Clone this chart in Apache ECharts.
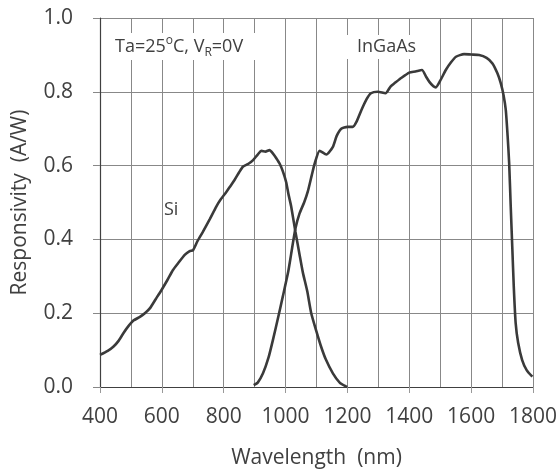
<!DOCTYPE html>
<html><head><meta charset="utf-8">
<script src="https://cdn.jsdelivr.net/npm/echarts@6/dist/echarts.min.js"></script>
<style>html,body{margin:0;padding:0;background:#fff}#c{width:560px;height:475px}</style>
</head><body><div id="c"></div>
<script>
const xTicks = [400, 600, 800, 1000, 1200, 1400, 1600, 1800];
const yTicks = [0.0, 0.2, 0.4, 0.6, 0.8, 1.0];
const siWavelength = [400,425,443,460,475,490,508,529,545,561,580,599,618,636,655,674,690,701,715,733,755,776,790,809,822,835,850,862,880,895,910,922,935,948,960,970,981,991,1002,1010,1018,1032,1045,1056,1070,1083,1100,1115,1130,1153,1175,1196,1200];
const siResp = [0.087,0.098,0.109,0.125,0.145,0.163,0.180,0.190,0.200,0.213,0.238,0.263,0.290,0.317,0.338,0.358,0.368,0.371,0.395,0.421,0.455,0.489,0.508,0.529,0.545,0.561,0.582,0.597,0.605,0.615,0.630,0.640,0.638,0.642,0.632,0.620,0.605,0.585,0.555,0.520,0.490,0.420,0.360,0.310,0.260,0.200,0.150,0.109,0.075,0.037,0.012,0.001,0.0];
const ingaasWavelength = [897,910,927,945,959,975,991,1008,1018,1032,1045,1060,1072,1085,1094,1110,1132,1153,1165,1180,1200,1217,1230,1245,1262,1276,1298,1323,1340,1352,1375,1400,1420,1441,1455,1465,1478,1486,1500,1518,1535,1551,1577,1600,1626,1650,1669,1685,1696,1705,1712,1718,1723,1728,1733,1738,1744,1752,1765,1780,1798];
const ingaasResp = [0.005,0.012,0.037,0.080,0.127,0.185,0.245,0.310,0.360,0.430,0.470,0.500,0.530,0.575,0.605,0.640,0.630,0.651,0.680,0.700,0.705,0.705,0.720,0.750,0.780,0.796,0.800,0.796,0.815,0.823,0.838,0.852,0.855,0.859,0.840,0.827,0.815,0.812,0.830,0.859,0.880,0.895,0.902,0.901,0.900,0.892,0.877,0.850,0.823,0.790,0.751,0.680,0.606,0.490,0.380,0.270,0.173,0.120,0.073,0.045,0.028];
const xTitle = 'Wavelength  (nm)';
const yTitle = 'Responsivity  (A/W)';

const FONT = 'Open Sans';
const TXT = '#404040';
const chart = echarts.init(document.getElementById('c'), null, {renderer: 'canvas'});
const zip = (a, b) => a.map((v, i) => [v, b[i]]);
chart.setOption({
  animation: false,
  backgroundColor: '#fff',
  grid: {left: 100, right: 26, top: 18, bottom: 88},
  xAxis: {
    type: 'value', min: xTicks[0], max: xTicks[xTicks.length - 1], interval: 200,
    name: xTitle, nameLocation: 'middle', nameGap: 61,
    nameTextStyle: {fontFamily: FONT, fontSize: 21, color: TXT},
    axisLine: {show: true, lineStyle: {color: '#404040', width: 1.2}},
    axisTick: {show: true, length: 6, lineStyle: {color: '#999'}},
    axisLabel: {fontFamily: FONT, fontSize: 21, color: TXT, margin: 20, formatter: v => String(v)},
    splitLine: {show: true, lineStyle: {color: '#888', width: 1}},
    minorTick: {show: true, splitNumber: 2, length: 0},
    minorSplitLine: {show: true, lineStyle: {color: '#888', width: 1}}
  },
  yAxis: {
    type: 'value', min: yTicks[0], max: yTicks[yTicks.length - 1], interval: 0.2,
    name: yTitle, nameLocation: 'middle', nameGap: 69,
    nameTextStyle: {fontFamily: FONT, fontSize: 21, color: TXT},
    axisLine: {show: true, lineStyle: {color: '#404040', width: 1.2}},
    axisTick: {show: true, length: 7, lineStyle: {color: '#888'}},
    axisLabel: {fontFamily: FONT, fontSize: 21, color: TXT, margin: 27, formatter: v => v.toFixed(1)},
    splitLine: {show: true, lineStyle: {color: '#888', width: 1}}
  },
  series: [
    {name: 'Si', type: 'line', data: zip(siWavelength, siResp), showSymbol: false, smooth: 0.2,
     lineStyle: {color: '#3a3a3a', width: 2.6}, z: 3},
    {name: 'InGaAs', type: 'line', data: zip(ingaasWavelength, ingaasResp), showSymbol: false, smooth: 0.2,
     lineStyle: {color: '#3a3a3a', width: 2.6}, z: 3}
  ],
  graphic: [
    {type: 'text', left: 107, top: 33, z: 10, style: {
      text: '{n|Ta=25}{s|o}{n|C, V}{b|R}{n|=0V}',
      backgroundColor: '#fff', padding: [2, 13, 1, 8],
      rich: {
        n: {fontFamily: FONT, fontSize: 18, fill: TXT, lineHeight: 24, verticalAlign: 'middle'},
        s: {fontFamily: FONT, fontSize: 12, fill: TXT, lineHeight: 24, verticalAlign: 'top', padding: [0,0,8,0]},
        b: {fontFamily: FONT, fontSize: 12, fill: TXT, lineHeight: 24, verticalAlign: 'bottom', padding: [8,0,0,0]}
      }}},
    {type: 'text', left: 346, top: 35, z: 10, style: {
      text: 'InGaAs', fontFamily: FONT, fontSize: 18, fill: TXT, lineHeight: 22, backgroundColor: '#fff', padding: [1, 11, 1, 11]}},
    {type: 'text', left: 164, top: 201, z: 10, style: {
      text: 'Si', fontFamily: FONT, fontSize: 18, fill: TXT}}
  ]
});
</script></body></html>
